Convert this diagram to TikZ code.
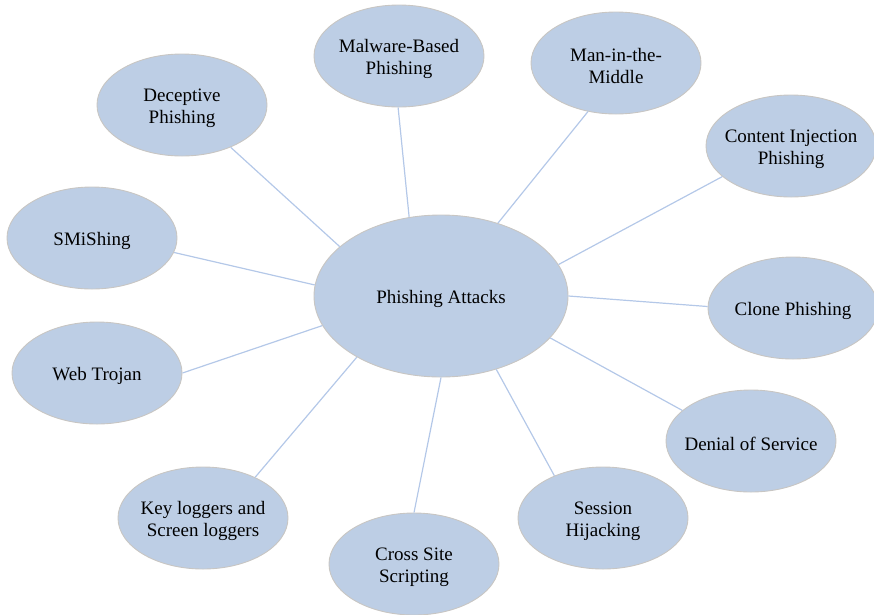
\documentclass[tikz,border=0pt]{standalone}
\usepackage{fontspec}
\setmainfont{Liberation Serif}
\newfontfamily\bubbleface{Liberation Serif}
\usetikzlibrary{shapes.geometric}
\definecolor{bubblefill}{RGB}{189,206,229}
\definecolor{bubbleedge}{RGB}{200,198,195}
\definecolor{spoke}{RGB}{180,200,232}
% taller first line: sets the text a little below the ellipse centre
\newcommand\toprow{\rule{0pt}{19.5pt}}
\tikzset{
  bubble/.style={ellipse, draw=bubbleedge, line width=0.9pt, fill=bubblefill,
    minimum width=170pt, minimum height=102pt, inner sep=0pt, inner xsep=-20pt,
    align=center, font=\bubbleface\fontsize{19}{22}\selectfont},
  hub/.style={bubble, minimum width=254pt, minimum height=162pt},
  spokeline/.style={draw=spoke, line width=1.2pt}
}
\begin{document}
\begin{tikzpicture}[x=1pt, y=-1pt]
  \useasboundingbox (0,0) rectangle (874,614);

  % central topic
  \node[hub] (hub) at (441,296) {\toprow Phishing Attacks};

  % attack categories around it
  \node[bubble] (dec)   at (182,105) {\toprow Deceptive\\Phishing};
  \node[bubble] (mal)   at (399,56)  {\toprow Malware-Based\\Phishing};
  \node[bubble] (mitm)  at (616,63)  {\toprow Man-in-the-\\Middle};
  \node[bubble] (inj)   at (791,146) {\toprow Content Injection\\Phishing};
  \node[bubble] (smi)   at (92,238)  {\toprow SMiShing};
  \node[bubble] (clone) at (793,308) {\toprow Clone Phishing};
  \node[bubble] (web)   at (97,373)  {\toprow Web Trojan};
  \node[bubble] (dos)   at (751,441) {\toprow Denial of Service};
  \node[bubble] (key)   at (203,518) {\toprow Key loggers and\\Screen loggers};
  \node[bubble] (xss)   at (414,564) {\toprow Cross Site\\Scripting};
  \node[bubble] (sess)  at (603,518) {\toprow Session\\Hijacking};

  % spokes from the hub
  \draw[spokeline] (hub.154.6) -- (dec.-41.2);
  \draw[spokeline] (hub.112.7) -- (mal.-91);
  \draw[spokeline] (hub.52.5)  -- (mitm.240.8);
  \draw[spokeline] (hub.15.9)  -- (inj.204.2);
  \draw[spokeline] (hub.175.9) -- (smi.-10.5);
  \draw[spokeline] (hub.0)     -- (clone.179);
  \draw[spokeline] (hub.194.1) -- (web.0);
  \draw[spokeline] (hub.-21.5) -- (dos.156.5);
  \draw[spokeline] (hub.216.4) -- (key.38.3);
  \draw[spokeline] (hub.-90)   -- (xss.90);
  \draw[spokeline] (hub.-53.4) -- (sess.139.4);
\end{tikzpicture}
\end{document}
